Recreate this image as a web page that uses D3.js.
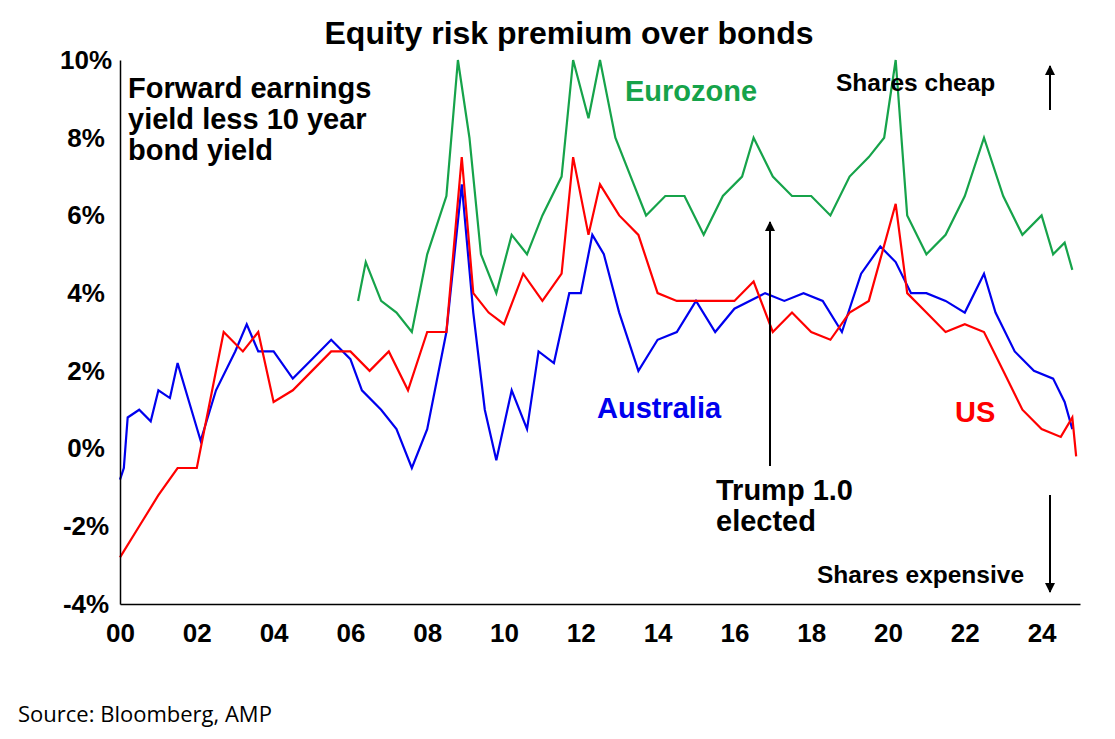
<!DOCTYPE html>
<html>
<head>
<style>
  body { margin: 0; background: #fff; }
  text { font-family: "Liberation Sans", Arial, sans-serif; }
</style>
</head>
<body>
<svg id="svg" width="1115" height="739"></svg>
<script src="https://cdn.jsdelivr.net/npm/d3@7"></script>
<script>
// [year, % premium]
const australia = [[2000,-0.8],[2000.1,-0.5],[2000.2,0.8],[2000.5,1.0],[2000.8,0.7],[2001,1.5],[2001.3,1.3],[2001.5,2.2],[2001.8,1.2],[2002.1,0.2],[2002.5,1.5],[2003,2.5],[2003.3,3.2],[2003.6,2.5],[2004,2.5],[2004.5,1.8],[2005,2.3],[2005.5,2.8],[2006,2.3],[2006.3,1.5],[2006.8,1.0],[2007.2,0.5],[2007.6,-0.5],[2008,0.5],[2008.5,3.0],[2008.9,6.8],[2009.2,3.5],[2009.5,1.0],[2009.8,-0.3],[2010.2,1.5],[2010.6,0.5],[2010.9,2.5],[2011.3,2.2],[2011.7,4.0],[2012,4.0],[2012.3,5.5],[2012.6,5.0],[2013,3.5],[2013.5,2.0],[2014,2.8],[2014.5,3.0],[2015,3.8],[2015.5,3.0],[2016,3.6],[2016.8,4.0],[2017.3,3.8],[2017.8,4.0],[2018.3,3.8],[2018.8,3.0],[2019.3,4.5],[2019.8,5.2],[2020.2,4.8],[2020.6,4.0],[2021,4.0],[2021.5,3.8],[2022,3.5],[2022.5,4.5],[2022.8,3.5],[2023.3,2.5],[2023.8,2.0],[2024.3,1.8],[2024.6,1.2],[2024.8,0.5]];
const us = [[2000,-2.8],[2000.5,-2.0],[2001,-1.2],[2001.5,-0.5],[2002,-0.5],[2002.4,1.5],[2002.7,3.0],[2003.2,2.5],[2003.6,3.0],[2004,1.2],[2004.5,1.5],[2005,2.0],[2005.5,2.5],[2006,2.5],[2006.5,2.0],[2007,2.5],[2007.5,1.5],[2008,3.0],[2008.5,3.0],[2008.9,7.5],[2009.2,4.0],[2009.6,3.5],[2010,3.2],[2010.5,4.5],[2011,3.8],[2011.5,4.5],[2011.8,7.5],[2012.2,5.5],[2012.5,6.8],[2013,6.0],[2013.5,5.5],[2014,4.0],[2014.5,3.8],[2015,3.8],[2016,3.8],[2016.5,4.3],[2017,3.0],[2017.5,3.5],[2018,3.0],[2018.5,2.8],[2019,3.5],[2019.5,3.8],[2020.2,6.3],[2020.5,4.0],[2021,3.5],[2021.5,3.0],[2022,3.2],[2022.5,3.0],[2023,2.0],[2023.5,1.0],[2024,0.5],[2024.5,0.3],[2024.8,0.8],[2024.9,-0.2]];
const eurozone = [[2006.2,3.8],[2006.4,4.8],[2006.8,3.8],[2007.2,3.5],[2007.6,3.0],[2008,5.0],[2008.5,6.5],[2008.8,10],[2009.1,8.0],[2009.4,5.0],[2009.8,4.0],[2010.2,5.5],[2010.6,5.0],[2011,6.0],[2011.5,7.0],[2011.8,10],[2012.2,8.5],[2012.5,10],[2012.9,8.0],[2013.3,7.0],[2013.7,6.0],[2014.2,6.5],[2014.7,6.5],[2015.2,5.5],[2015.7,6.5],[2016.2,7.0],[2016.5,8.0],[2017,7.0],[2017.5,6.5],[2018,6.5],[2018.5,6.0],[2019,7.0],[2019.5,7.5],[2019.9,8.0],[2020.2,10],[2020.5,6.0],[2021,5.0],[2021.5,5.5],[2022,6.5],[2022.5,8.0],[2023,6.5],[2023.5,5.5],[2024,6.0],[2024.3,5.0],[2024.6,5.3],[2024.8,4.6]];
const yTicks = [-4,-2,0,2,4,6,8,10];
const xTicks = [2000,2002,2004,2006,2008,2010,2012,2014,2016,2018,2020,2022,2024];

const svg = d3.select("#svg");
const x = d3.scaleLinear().domain([2000, 2025]).range([120, 1080]);
const y = d3.scaleLinear().domain([-4, 10]).range([604, 60]);

svg.append("text").attr("x", 569).attr("y", 44).attr("text-anchor", "middle")
  .attr("font-size", 32).attr("font-weight", "bold").text("Equity risk premium over bonds");

const line = d3.line().x(d => x(d[0])).y(d => y(d[1]));
[[eurozone,"#16a34a"],[australia,"#0000ee"],[us,"#ff0000"]].forEach(([d,c]) => {
  svg.append("path").datum(d).attr("d", line).attr("fill","none")
    .attr("stroke", c).attr("stroke-width", 2.2);
});

const ya = svg.append("g").attr("transform", "translate(120,0)")
  .call(d3.axisLeft(y).tickValues(yTicks).tickSize(0).tickPadding(24).tickFormat(d => d + "%"));
ya.selectAll("text").attr("font-size", 26).attr("font-weight", "bold").attr("fill", "#000")
  .attr("text-anchor", "middle").attr("dx", -10)
  .style("font-family", '"Liberation Sans", Arial');
ya.select(".domain").attr("stroke", "#000").attr("stroke-width", 1.5);

const xa = svg.append("g").attr("transform", "translate(0,604)")
  .call(d3.axisBottom(x).tickValues(xTicks).tickSize(0).tickPadding(20)
    .tickFormat(d => String(d % 100).padStart(2, "0")));
xa.selectAll("text").attr("font-size", 26).attr("font-weight", "bold").attr("fill", "#000")
  .style("font-family", '"Liberation Sans", Arial');
xa.select(".domain").attr("stroke", "#000").attr("stroke-width", 1.5);

svg.append("defs").append("marker").attr("id", "ah").attr("viewBox", "0 0 10 10")
  .attr("refX", 9).attr("refY", 5).attr("markerWidth", 5).attr("markerHeight", 5).attr("orient", "auto")
  .append("path").attr("d", "M0,0L10,5L0,10z").attr("fill", "#000");
function arrow(x1, y1, x2, y2) {
  svg.append("line").attr("x1", x1).attr("y1", y1).attr("x2", x2).attr("y2", y2)
    .attr("stroke", "#000").attr("stroke-width", 2).attr("marker-end", "url(#ah)");
}
arrow(770, 466, 770, 222);
arrow(1050, 110, 1050, 66);
arrow(1050, 495, 1050, 592);

function label(tx, ty, lines, color, size, anchor) {
  const t = svg.append("text").attr("x", tx).attr("y", ty).attr("fill", color)
    .attr("font-size", size).attr("font-weight", "bold").attr("text-anchor", anchor || "start");
  lines.forEach((s, i) => t.append("tspan").attr("x", tx).attr("dy", i ? size * 1.07 : 0).text(s));
}
label(128, 98, ["Forward earnings", "yield less 10 year", "bond yield"], "#000", 29);
label(625, 101, ["Eurozone"], "#16a34a", 29);
label(597, 418, ["Australia"], "#0000ee", 29);
label(955, 422, ["US"], "#ff0000", 29);
label(716, 500, ["Trump 1.0", "elected"], "#000", 29);
label(836, 91, ["Shares cheap"], "#000", 24.5);
label(817, 583, ["Shares expensive"], "#000", 24.5);

svg.append("text").attr("x", 18).attr("y", 722).attr("font-size", 22)
  .style("font-family", '"Open Sans", sans-serif').text("Source: Bloomberg, AMP");
</script>
</body>
</html>
